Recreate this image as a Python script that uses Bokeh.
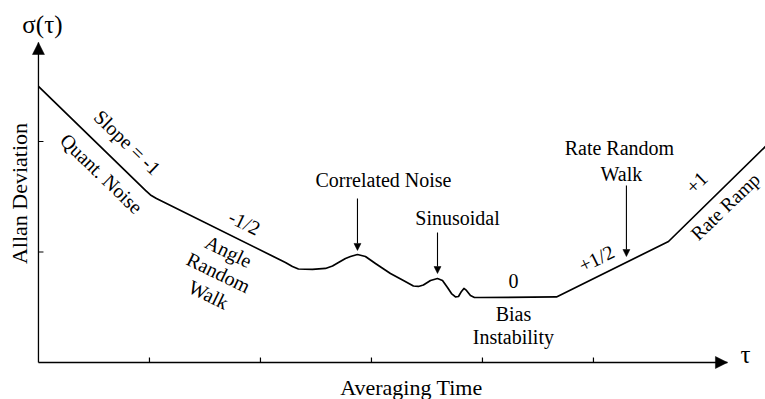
import math
from bokeh.plotting import figure
from bokeh.models import Range1d, Arrow, NormalHead, ColumnDataSource
from bokeh.core.properties import value
from bokeh.embed import file_html
from bokeh.resources import INLINE

# ---- schematic Allan deviation curve (abstract units: x = averaging time, y = sigma) ----
curve_x = [0.000, 0.964, 1.009, 1.063, 2.225, 2.288, 2.342, 2.468, 2.586, 2.649, 2.703,
           2.766, 2.811, 2.874, 2.946, 3.036, 3.171, 3.288, 3.378, 3.423, 3.468, 3.532,
           3.595, 3.640, 3.685, 3.721, 3.757, 3.784, 3.811, 3.833, 3.856, 3.892, 3.928,
           3.982, 4.667, 5.676, 6.550]
curve_y = [2.498, 1.557, 1.516, 1.484, 0.905, 0.869, 0.846, 0.842, 0.851, 0.873, 0.905,
           0.941, 0.959, 0.977, 0.959, 0.896, 0.805, 0.742, 0.692, 0.688, 0.701, 0.742,
           0.760, 0.742, 0.679, 0.624, 0.593, 0.597, 0.643, 0.670, 0.652, 0.606, 0.588,
           0.588, 0.593, 1.095, 1.955]

x_ticks = [1, 2, 3, 4, 5]
y_ticks = [1, 2]
x_axis_end = 6.207
y_axis_end = 2.896
tick_len = 0.045

# horizontal annotations
h_text = ["σ(τ)", "τ", "Correlated Noise", "Sinusoidal", "0", "Bias", "Instability",
          "Rate Random", "Walk", "Averaging Time"]
h_x = [0.036, 6.369, 3.108, 3.775, 4.279, 4.279, 4.279, 5.234, 5.252, 3.360]
h_y = [3.059, 0.068, 1.647, 1.312, 0.733, 0.443, 0.235, 1.937, 1.710, -0.222]
h_size = ["25px", "25px", "20px", "20px", "20px", "20px", "20px", "20px", "20px", "22px"]

# rotated annotations
r_text = ["Slope = -1", "Quant. Noise", "-1/2", "Angle", "Random", "Walk", "+1/2", "+1",
          "Rate Ramp", "Allan Deviation"]
r_x = [0.802, 0.568, 1.856, 1.712, 1.622, 1.532, 5.027, 5.928, 6.189, -0.167]
r_y = [1.991, 1.710, 1.267, 1.005, 0.814, 0.615, 0.941, 1.629, 1.412, 1.529]
r_angle_deg = [-44, -44, -26, -26, -26, -26, 26, 44, 44, 90]
r_size = ["20px"] * 8 + ["19.5px", "22px"]

# pointer arrows
arrow_x = [2.874, 3.595, 5.297]
arrow_y0 = [1.484, 1.176, 1.602]
arrow_y1 = [1.014, 0.805, 0.959]

FONT = "Liberation Serif"

p = figure(width=765, height=399, output_backend="svg", toolbar_location=None,
           x_range=Range1d(-0.342, 6.550), y_range=Range1d(-0.335, 3.276),
           min_border=0)
p.axis.visible = False
p.outline_line_color = None
p.grid.visible = False
p.background_fill_color = "white"
p.border_fill_color = "white"

# axes
p.segment(x0=[0, 0], y0=[0, 0], x1=[x_axis_end, 0], y1=[0, y_axis_end],
          line_color="black", line_width=1.3)
p.segment(x0=x_ticks, y0=[0] * len(x_ticks), x1=x_ticks, y1=[tick_len] * len(x_ticks),
          line_color="black", line_width=1.2)
p.segment(x0=[0] * len(y_ticks), y0=y_ticks, x1=[tick_len] * len(y_ticks), y1=y_ticks,
          line_color="black", line_width=1.2)

p.add_layout(Arrow(end=NormalHead(size=12, fill_color="black", line_color="black", line_width=0.5),
                   x_start=x_axis_end - 0.05, y_start=0, x_end=x_axis_end, y_end=0,
                   line_color="black", line_width=1.3))
p.add_layout(Arrow(end=NormalHead(size=12, fill_color="black", line_color="black", line_width=0.5),
                   x_start=0, y_start=y_axis_end - 0.05, x_end=0, y_end=y_axis_end,
                   line_color="black", line_width=1.3))

p.line(curve_x, curve_y, line_color="black", line_width=1.7, line_join="round")

for ax_, y0, y1 in zip(arrow_x, arrow_y0, arrow_y1):
    p.add_layout(Arrow(end=NormalHead(size=7, fill_color="black", line_color="black", line_width=0.5),
                       x_start=ax_, y_start=y0, x_end=ax_, y_end=y1,
                       line_color="black", line_width=1.1))

hsrc = ColumnDataSource(dict(x=h_x, y=h_y, text=h_text, size=h_size))
p.text(x="x", y="y", text="text", source=hsrc, text_font=value(FONT), text_font_size="size",
       text_align="center", text_baseline="middle", text_color="black")

rsrc = ColumnDataSource(dict(x=r_x, y=r_y, text=r_text, size=r_size,
                             angle=[math.radians(a) for a in r_angle_deg]))
p.text(x="x", y="y", text="text", angle="angle", source=rsrc, text_font=value(FONT),
       text_font_size="size", text_align="center", text_baseline="middle", text_color="black")

open("out.html", "w").write(file_html(p, INLINE))
